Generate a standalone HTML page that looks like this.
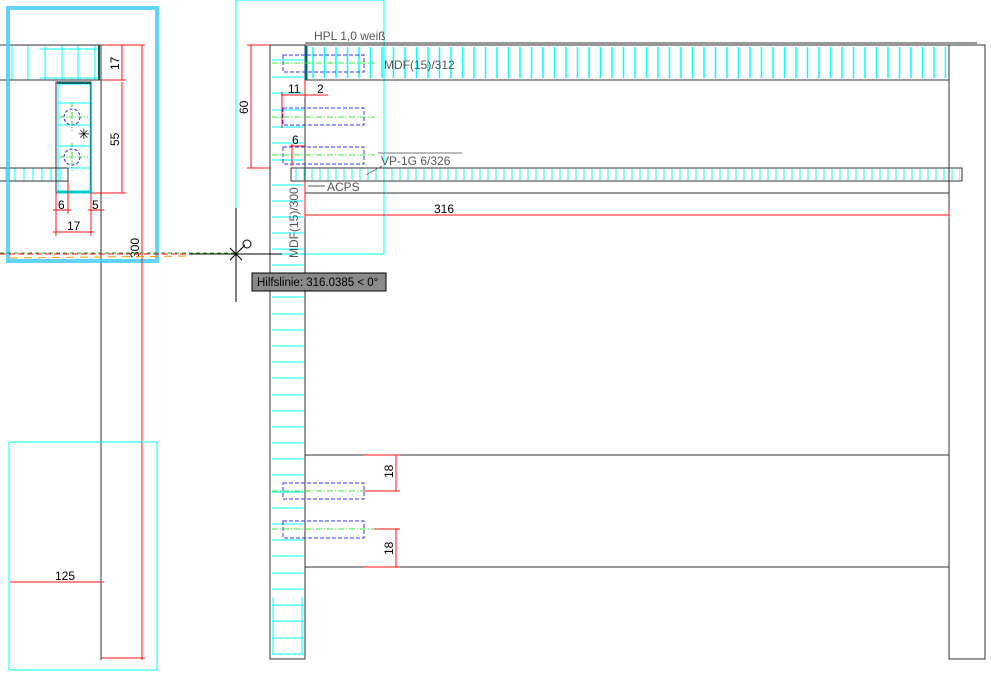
<!DOCTYPE html>
<html><head><style>body{margin:0;background:#fff}svg{display:block}text{font-family:"Liberation Sans",sans-serif}</style></head><body>
<svg width="991" height="676" viewBox="0 0 991 676" xmlns="http://www.w3.org/2000/svg">
<rect width="991" height="676" fill="#fff"/>
<!-- LEFT PANEL -->
<g stroke="#0ff" stroke-width="1">
<line x1="12" y1="45" x2="12" y2="80"/><line x1="28" y1="45" x2="28" y2="80"/><line x1="45" y1="45" x2="45" y2="80"/><line x1="62" y1="45" x2="62" y2="80"/><line x1="78" y1="45" x2="78" y2="80"/><line x1="95" y1="45" x2="95" y2="80"/>
<line x1="40" y1="49" x2="100" y2="49"/><line x1="40" y1="78" x2="100" y2="78"/>
<rect x="58" y="84" width="32" height="108" fill="none"/>
<line x1="58" y1="103" x2="90" y2="103"/><line x1="58" y1="125" x2="90" y2="125"/><line x1="58" y1="146" x2="90" y2="146"/><line x1="58" y1="168" x2="90" y2="168"/>
<line x1="6" y1="168" x2="6" y2="181"/><line x1="15" y1="168" x2="15" y2="181"/><line x1="24" y1="168" x2="24" y2="181"/><line x1="33" y1="168" x2="33" y2="181"/><line x1="42" y1="168" x2="42" y2="181"/><line x1="51" y1="168" x2="51" y2="181"/><line x1="60" y1="168" x2="60" y2="181"/>
</g>
<g stroke="#333" fill="none" stroke-width="1">
<line x1="0" y1="45" x2="101" y2="45"/><line x1="0" y1="80" x2="101" y2="80"/>
<line x1="101" y1="45" x2="101" y2="660"/>
<rect x="56" y="82" width="35" height="111"/>
<line x1="0" y1="168" x2="68" y2="168"/><line x1="0" y1="181" x2="68" y2="181"/><line x1="68" y1="168" x2="68" y2="181"/>
<line x1="91" y1="193" x2="101" y2="193"/>
</g>
<line x1="99" y1="45" x2="99" y2="80" stroke="#066" stroke-width="2"/>
<line x1="57" y1="192" x2="91" y2="192" stroke="#0cc" stroke-width="3"/>
<line x1="57" y1="83" x2="91" y2="83" stroke="#066" stroke-width="2"/>
<g stroke="#22f" fill="none" stroke-dasharray="3,2"><circle cx="72" cy="117" r="8"/><circle cx="72" cy="157" r="8"/></g>
<g stroke="#2d2" stroke-dasharray="4,2,1,2"><line x1="60" y1="117" x2="88" y2="117"/><line x1="72" y1="103" x2="72" y2="131"/><line x1="60" y1="157" x2="88" y2="157"/><line x1="72" y1="143" x2="72" y2="171"/></g>
<text x="78" y="139" font-size="14">✳</text>
<rect x="8" y="8" width="149" height="253" fill="none" stroke="#4cf" stroke-width="4" opacity="0.85"/>
<!-- left dims -->
<g stroke="#f11" stroke-width="1" fill="none">
<line x1="101" y1="45" x2="145" y2="45"/><line x1="101" y1="80" x2="126" y2="80"/>
<line x1="122" y1="45" x2="122" y2="80"/><line x1="122" y1="82" x2="122" y2="193"/><line x1="91" y1="193" x2="126" y2="193"/>
<line x1="142" y1="45" x2="142" y2="660"/>
<line x1="56" y1="193" x2="56" y2="236"/><line x1="68" y1="181" x2="68" y2="214"/><line x1="91" y1="193" x2="91" y2="236"/>
<line x1="53" y1="210" x2="71" y2="210"/><line x1="88" y1="210" x2="104" y2="210"/><line x1="53" y1="232" x2="94" y2="232"/>
<line x1="101" y1="658" x2="145" y2="658"/><line x1="10" y1="582" x2="104" y2="582"/>
</g>
<g font-size="12" fill="#000">
<text x="0" y="0" transform="translate(119,70) rotate(-90)">17</text>
<text x="0" y="0" transform="translate(119,146) rotate(-90)">55</text>
<text x="0" y="0" transform="translate(139,258) rotate(-90)">300</text>
<text x="58" y="209">6</text><text x="92" y="209">5</text><text x="67" y="230">17</text>
<text x="55" y="580">125</text>
</g>
<line x1="0" y1="254" x2="236" y2="254" stroke="#f11" stroke-dasharray="6,3"/>
<line x1="0" y1="253" x2="236" y2="253" stroke="#2a2" stroke-dasharray="4,3"/>
<line x1="10" y1="258" x2="190" y2="256" stroke="#e90" stroke-dasharray="8,6"/>
<rect x="9" y="442" width="148" height="228" fill="none" stroke="#0ff"/>
<!-- RIGHT -->
<rect x="236" y="0" width="148" height="254" fill="none" stroke="#0ff"/>
<g stroke="#0ff" stroke-width="1">
<line x1="272" y1="60" x2="303" y2="60"/><line x1="272" y1="77" x2="303" y2="77"/><line x1="272" y1="93" x2="303" y2="93"/><line x1="272" y1="110" x2="303" y2="110"/><line x1="272" y1="127" x2="303" y2="127"/><line x1="272" y1="143" x2="303" y2="143"/><line x1="272" y1="160" x2="303" y2="160"/>
<line x1="272" y1="185" x2="303" y2="185"/><line x1="272" y1="201" x2="303" y2="201"/><line x1="272" y1="217" x2="303" y2="217"/><line x1="272" y1="233" x2="303" y2="233"/><line x1="272" y1="249" x2="303" y2="249"/><line x1="272" y1="265" x2="303" y2="265"/><line x1="272" y1="281" x2="303" y2="281"/><line x1="272" y1="297" x2="303" y2="297"/><line x1="272" y1="314" x2="303" y2="314"/><line x1="272" y1="330" x2="303" y2="330"/><line x1="272" y1="346" x2="303" y2="346"/><line x1="272" y1="362" x2="303" y2="362"/><line x1="272" y1="378" x2="303" y2="378"/><line x1="272" y1="395" x2="303" y2="395"/><line x1="272" y1="411" x2="303" y2="411"/><line x1="272" y1="427" x2="303" y2="427"/><line x1="272" y1="443" x2="303" y2="443"/><line x1="272" y1="459" x2="303" y2="459"/><line x1="272" y1="475" x2="303" y2="475"/><line x1="272" y1="492" x2="303" y2="492"/><line x1="272" y1="508" x2="303" y2="508"/><line x1="272" y1="524" x2="303" y2="524"/><line x1="272" y1="540" x2="303" y2="540"/><line x1="272" y1="556" x2="303" y2="556"/><line x1="272" y1="573" x2="303" y2="573"/><line x1="272" y1="589" x2="303" y2="589"/><line x1="272" y1="605" x2="303" y2="605"/><line x1="272" y1="621" x2="303" y2="621"/><line x1="272" y1="638" x2="303" y2="638"/><line x1="272" y1="654" x2="303" y2="654"/>
<line x1="273" y1="597" x2="273" y2="655"/><line x1="302" y1="597" x2="302" y2="655"/>
</g>
<svg x="305" y="45" width="644" height="35"><defs><pattern id="p1" width="11.5" height="35" patternUnits="userSpaceOnUse"><line x1="8" y1="2" x2="8" y2="33" stroke="#0ff" stroke-width="1.5"/></pattern></defs><rect width="644" height="35" fill="url(#p1)"/></svg>
<svg x="292" y="168" width="668" height="13"><defs><pattern id="p2" width="8" height="13" patternUnits="userSpaceOnUse"><line x1="4" y1="1" x2="4" y2="12" stroke="#0ff"/></pattern></defs><rect width="668" height="13" fill="url(#p2)"/></svg>
<g stroke="#333" fill="none" stroke-width="1">
<rect x="270" y="45" width="35" height="614"/>
<line x1="305" y1="43" x2="977" y2="43"/>
<rect x="305" y="45" width="644" height="35"/>
<rect x="949" y="45" width="36" height="614"/>
<rect x="291" y="168" width="671" height="13"/>
<line x1="305" y1="193" x2="949" y2="193"/>
<line x1="305" y1="455" x2="949" y2="455"/>
<line x1="305" y1="567" x2="949" y2="567"/>
</g>
<line x1="306" y1="46" x2="306" y2="80" stroke="#066" stroke-width="3"/>
<g stroke="#33f" fill="none" stroke-dasharray="4,2">
<rect x="283" y="55" width="81" height="17"/><rect x="283" y="108" width="81" height="17"/><rect x="283" y="147" width="81" height="17"/><rect x="283" y="483" width="81" height="16"/><rect x="283" y="521" width="81" height="17"/>
</g>
<g stroke="#3e3" stroke-dasharray="6,2,1,2">
<line x1="272" y1="63" x2="375" y2="63"/><line x1="272" y1="117" x2="375" y2="117"/><line x1="272" y1="155" x2="375" y2="155"/><line x1="272" y1="491" x2="375" y2="491"/><line x1="272" y1="529" x2="375" y2="529"/>
</g>
<g stroke="#f11" fill="none">
<line x1="247" y1="45" x2="270" y2="45"/><line x1="247" y1="168" x2="270" y2="168"/><line x1="251" y1="45" x2="251" y2="168"/>
<line x1="281" y1="95" x2="328" y2="95"/><line x1="282" y1="92" x2="282" y2="128"/><line x1="305" y1="80" x2="305" y2="98"/>
<line x1="290" y1="146" x2="306" y2="146"/><line x1="292" y1="144" x2="292" y2="166"/>
<line x1="305" y1="181" x2="305" y2="218"/><line x1="305" y1="215" x2="949" y2="215"/><line x1="949" y1="210" x2="949" y2="218"/>
<line x1="364" y1="455" x2="400" y2="455"/><line x1="364" y1="491" x2="400" y2="491"/><line x1="396" y1="455" x2="396" y2="491"/>
<line x1="374" y1="529" x2="400" y2="529"/><line x1="364" y1="567" x2="400" y2="567"/><line x1="396" y1="529" x2="396" y2="567"/>
</g>
<g font-size="12" fill="#000">
<text transform="translate(248,114) rotate(-90)">60</text>
<text x="288" y="93">11</text><text x="317" y="93">2</text><text x="292" y="144">6</text>
<text x="434" y="213">316</text>
<text transform="translate(393,478) rotate(-90)">18</text>
<text transform="translate(393,555) rotate(-90)">18</text>
</g>
<g font-size="12" fill="#555">
<text x="314" y="40" font-family="Liberation Mono,monospace">HPL 1,0 weiß</text>
<text x="384" y="69" font-family="Liberation Mono,monospace">MDF(15)/312</text>
<text x="381" y="165" font-family="Liberation Mono,monospace">VP-1G 6/326</text>
<text x="327" y="191" font-family="Liberation Mono,monospace">ACPS</text>
<text transform="translate(298,258) rotate(-90)" font-family="Liberation Mono,monospace">MDF(15)/300</text>
</g>
<line x1="378" y1="153" x2="462" y2="153" stroke="#777"/>
<line x1="366" y1="175" x2="382" y2="166" stroke="#777"/>
<line x1="308" y1="186" x2="325" y2="186" stroke="#555"/>
<!-- crosshair -->
<g stroke="#000"><line x1="236" y1="208" x2="236" y2="302"/><line x1="190" y1="254" x2="282" y2="254"/><line x1="230" y1="248" x2="242" y2="260"/><line x1="230" y1="260" x2="242" y2="248"/><line x1="240" y1="250" x2="245" y2="245"/></g>
<circle cx="247" cy="244" r="4" fill="none" stroke="#000"/>
<rect x="252" y="273" width="134" height="18" fill="#8a8a8a" stroke="#000"/>
<text x="257" y="286" font-size="11.5" fill="#000">Hilfslinie: 316.0385 &lt; 0°</text>
</svg>
</body></html>
